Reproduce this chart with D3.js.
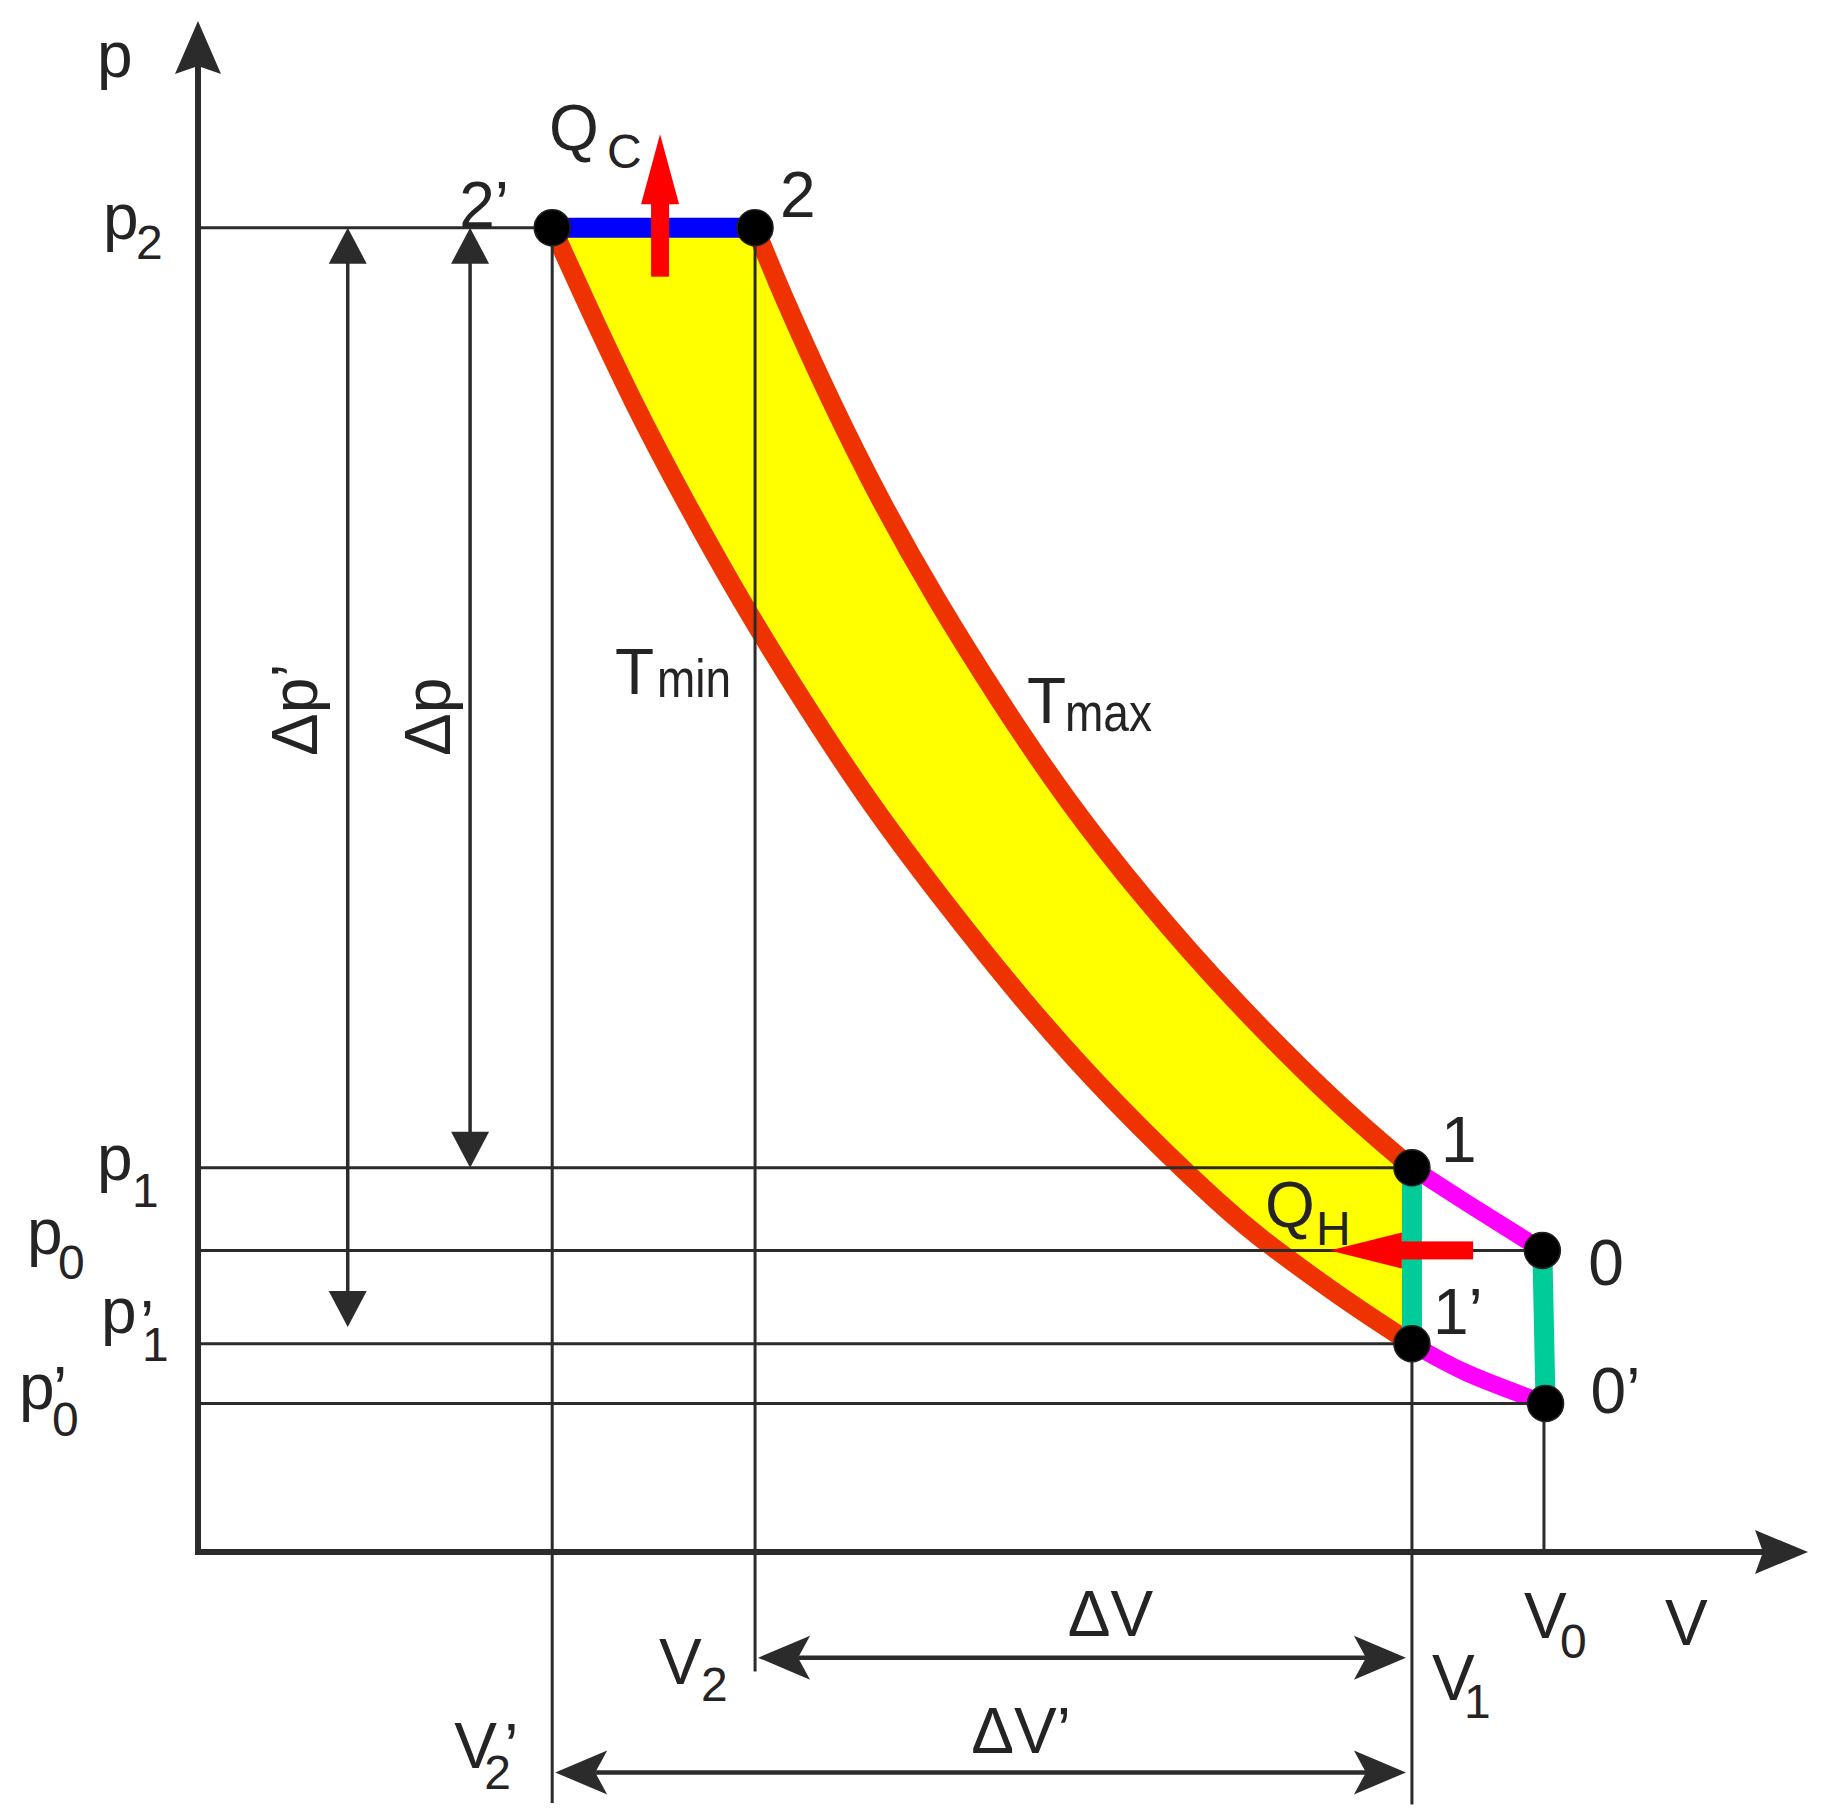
<!DOCTYPE html>
<html>
<head>
<meta charset="utf-8">
<script src="https://cdn.jsdelivr.net/npm/d3@7"></script>
<style>
  body { margin: 0; background: #fff; }
  svg text { font-family: "Liberation Sans", Arial, sans-serif; fill: #262324; }
</style>
</head>
<body>
<svg width="1827" height="1820"></svg>
<script>
// pressure levels: p2, p1, p0, p'1, p'0
const pLevels = [8.65, 2.51, 1.97, 1.36, 0.97]
// volume levels: V'2, V2, V1, V0
const vLevels = [2.20, 3.46, 7.54, 8.36]
// where the volume guide lines stop below the axis
const vLineEnds = [-1.64, -0.78, -1.65, 0]

// state points 2', 2, 1, 0, 1', 0'
const stateNames = ['2’', '2', '1', '0', '1’', '0’']
const stateV = [2.20, 3.46, 7.54, 8.35, 7.54, 8.37]
const stateP = [8.65, 8.65, 2.51, 1.97, 1.36, 0.97]

// T max isotherm, 2 -> 1
const tmaxV = [3.46, 3.646, 3.932, 4.242, 4.590, 4.975, 5.404, 5.888, 6.435, 7.062, 7.54]
const tmaxP = [8.65, 8.18, 7.52, 6.87, 6.22, 5.57, 4.91, 4.26, 3.61, 2.95, 2.51]
// T min isotherm, 2' -> 1'
const tminV = [2.20, 2.404, 2.702, 3.025, 3.373, 3.752, 4.168, 4.627, 5.124, 5.689, 6.323, 6.702, 7.124, 7.54]
const tminP = [8.65, 8.18, 7.52, 6.87, 6.22, 5.57, 4.91, 4.26, 3.61, 2.95, 2.30, 1.97, 1.65, 1.36]
// 1 -> 0 and 1' -> 0'
const upperV = [7.54, 7.88, 8.35]
const upperP = [2.51, 2.28, 1.97]
const lowerV = [7.54, 7.88, 8.37]
const lowerP = [1.36, 1.17, 0.97]

// dimension arrows
const dpArrowV = [0.93, 1.69]
const dpArrowTop = [8.65, 8.65]
const dpArrowBottom = [1.47, 2.51]
const dvArrowP = [-0.69, -1.44]
const dvArrowLeft = [3.46, 2.20]
const dvArrowRight = [7.54, 7.54]

// heat arrows
const qcV = 2.87
const qcP = [8.33, 9.26]
const qhP = 1.97
const qhV = [7.92, 7.03]

const svg = d3.select('svg')
const x = d3.scaleLinear().domain([0, 10]).range([198, 1808])
const y = d3.scaleLinear().domain([0, 10]).range([1552, 21])

const zip = (vs, ps) => vs.map((v, i) => [v, ps[i]])
const line = d3.line()
  .x(d => x(d[0]))
  .y(d => y(d[1]))
  .curve(d3.curveNatural)

const ink = '#2b2b2b'

// arrow head: tip (tx,ty), direction (ux,uy)
function head (tx, ty, ux, uy, len, half, notch) {
  const bx = tx - ux * len
  const by = ty - uy * len
  const nx = -uy
  const ny = ux
  const mx = tx - ux * (len - notch)
  const my = ty - uy * (len - notch)
  return `M${tx},${ty}L${bx + nx * half},${by + ny * half}L${mx},${my}L${bx - nx * half},${by - ny * half}Z`
}

// yellow cycle area
const tmin = zip(tminV, tminP)
const tmax = zip(tmaxV, tmaxP)
svg.append('path')
  .attr('d', line(tmin) + line(tmax.slice().reverse()).replace(/^M/, 'L') + 'Z')
  .style('fill', '#ffff00')

// isotherms
svg.append('g').selectAll('path')
  .data([tmin, tmax])
  .join('path')
  .attr('d', line)
  .style('fill', 'none')
  .style('stroke', '#ee3300')
  .style('stroke-width', 19)

// blue line 2'-2
svg.append('line')
  .attr('x1', x(stateV[0])).attr('x2', x(stateV[1]))
  .attr('y1', y(stateP[0])).attr('y2', y(stateP[1]))
  .style('stroke', '#0000ff')
  .style('stroke-width', 20)

// magenta 1-0, 1'-0'
svg.append('g').selectAll('path')
  .data([zip(upperV, upperP), zip(lowerV, lowerP)])
  .join('path')
  .attr('d', line)
  .style('fill', 'none')
  .style('stroke', '#ff00ff')
  .style('stroke-width', 17)

// green 1-1', 0-0'
svg.append('g').selectAll('line')
  .data([[2, 4], [3, 5]])
  .join('line')
  .attr('x1', d => x(stateV[d[0]])).attr('y1', d => y(stateP[d[0]]))
  .attr('x2', d => x(stateV[d[1]])).attr('y2', d => y(stateP[d[1]]))
  .style('stroke', '#00cc99')
  .style('stroke-width', 20)

// horizontal guide lines: axis -> state point
const pEnds = [0, 2, 3, 4, 5]
const guides = svg.append('g').style('stroke', ink).style('stroke-width', 3)
guides.selectAll('.ph')
  .data(pLevels)
  .join('line')
  .attr('class', 'ph')
  .attr('x1', x(0)).attr('x2', (d, i) => x(stateV[pEnds[i]]))
  .attr('y1', d => y(d)).attr('y2', d => y(d))

// vertical guide lines
const vStarts = [pLevels[0], pLevels[0], pLevels[3], pLevels[4]]
guides.selectAll('.vv')
  .data(vLevels)
  .join('line')
  .attr('class', 'vv')
  .attr('x1', d => x(d)).attr('x2', d => x(d))
  .attr('y1', (d, i) => y(vStarts[i])).attr('y2', (d, i) => y(vLineEnds[i]))

// axes
const axes = svg.append('g')
axes.append('line')
  .attr('x1', x(0)).attr('x2', x(0))
  .attr('y1', y(0) + 3).attr('y2', y(10) + 45)
  .style('stroke', ink).style('stroke-width', 6)
axes.append('line')
  .attr('x1', x(0) - 3).attr('x2', x(10) - 45)
  .attr('y1', y(0)).attr('y2', y(0))
  .style('stroke', ink).style('stroke-width', 6)
axes.append('path').attr('d', head(x(0), y(10), 0, -1, 53, 23, 8)).style('fill', ink)
axes.append('path').attr('d', head(x(10), y(0), 1, 0, 53, 22, 8)).style('fill', ink)

// dimension arrows
const dims = svg.append('g')
dpArrowV.forEach((v, i) => {
  const x0 = x(v)
  const yt = y(dpArrowTop[i])
  const yb = y(dpArrowBottom[i])
  dims.append('line')
    .attr('x1', x0).attr('x2', x0).attr('y1', yt + 30).attr('y2', yb - 30)
    .style('stroke', ink).style('stroke-width', 3.5)
  dims.append('path').attr('d', head(x0, yt, 0, -1, 36, 19, 0)).style('fill', ink)
  dims.append('path').attr('d', head(x0, yb, 0, 1, 36, 19, 0)).style('fill', ink)
})
dvArrowP.forEach((p, i) => {
  const y0 = y(p)
  const xl = x(dvArrowLeft[i]) + 3
  const xr = x(dvArrowRight[i]) - 6
  dims.append('line')
    .attr('x1', xl + 40).attr('x2', xr - 40).attr('y1', y0).attr('y2', y0)
    .style('stroke', ink).style('stroke-width', 4.5)
  dims.append('path').attr('d', head(xl, y0, -1, 0, 52, 22, 12)).style('fill', ink)
  dims.append('path').attr('d', head(xr, y0, 1, 0, 52, 22, 12)).style('fill', ink)
})

// heat arrows
const heat = svg.append('g').style('fill', '#ff0000')
heat.append('rect')
  .attr('x', x(qcV) - 9).attr('width', 18)
  .attr('y', y(qcP[1]) + 68).attr('height', y(qcP[0]) - y(qcP[1]) - 68)
heat.append('path').attr('d', head(x(qcV), y(qcP[1]), 0, -1, 70, 19, 0))
heat.append('rect')
  .attr('x', x(qhV[1]) + 70).attr('width', x(qhV[0]) - x(qhV[1]) - 70)
  .attr('y', y(qhP) - 9).attr('height', 18)
heat.append('path').attr('d', head(x(qhV[1]), y(qhP), -1, 0, 72, 18, 0))

// state dots
svg.append('g').selectAll('circle')
  .data(stateV)
  .join('circle')
  .attr('cx', d => x(d))
  .attr('cy', (d, i) => y(stateP[i]))
  .attr('r', 18)
  .style('fill', '#000')
  .style('stroke', '#222')
  .style('stroke-width', 1.5)

// text helper
const labels = svg.append('g')
function txt (px, py, s, size, extra) {
  const t = labels.append('text')
    .attr('x', px).attr('y', py)
    .style('font-size', (size || 64) + 'px')
    .text(s)
  if (extra) extra(t)
  return t
}

// axis names
txt(97, 77, 'p')
txt(1665, 1645, 'V')

// pressure labels
txt(103, y(pLevels[0]) + 11, 'p'); txt(136, y(pLevels[0]) + 31, '2', 48)
txt(97, y(pLevels[1]) + 12, 'p'); txt(132, y(pLevels[1]) + 39, '1', 48)
txt(27, y(pLevels[2]) + 4, 'p'); txt(58, y(pLevels[2]) + 29, '0', 48)
txt(101, y(pLevels[3]) - 11, 'p'); txt(140, y(pLevels[3]) + 2, '’'); txt(142, y(pLevels[3]) + 17, '1', 48)
txt(19, y(pLevels[4]) + 6, 'p'); txt(53, y(pLevels[4]) + 9, '’'); txt(52, y(pLevels[4]) + 33, '0', 48)

// volume labels
txt(x(vLevels[0]) - 98, 1768, 'V'); txt(x(vLevels[0]) - 48, 1769, '’'); txt(x(vLevels[0]) - 68, 1789, '2', 48)
txt(x(vLevels[1]) - 96, 1684, 'V'); txt(x(vLevels[1]) - 54, 1701, '2', 48)
txt(x(vLevels[2]) + 20, 1700, 'V'); txt(x(vLevels[2]) + 52, 1718, '1', 48)
txt(x(vLevels[3]) - 20, 1638, 'V'); txt(x(vLevels[3]) + 16, 1658, '0', 48)

// state labels
const stateDx = [-93, 25, 29, 46, 21, 45]
const stateDy = [-1, -11, -6, 35, -10, 10]
stateNames.forEach((s, i) => {
  txt(x(stateV[i]) + stateDx[i], y(stateP[i]) + stateDy[i], s)
})

// heat labels
txt(549, 150, 'Q'); txt(607, 168, 'C', 48)
txt(1265, 1227, 'Q'); txt(1316, 1245, 'H', 48)

// isotherm labels
txt(615, 694, 'T'); txt(657, 697, 'min', 54, t => t.attr('textLength', 74).attr('lengthAdjust', 'spacingAndGlyphs'))
txt(1027, 723, 'T'); txt(1065, 731, 'max', 54, t => t.attr('textLength', 87).attr('lengthAdjust', 'spacingAndGlyphs'))

// dimension labels
const dpNames = ['Δp’', 'Δp']
const dpLabelX = [317, 450]
dpNames.forEach((s, i) => {
  txt(0, 0, s).attr('transform', `translate(${dpLabelX[i]},756) rotate(-90)`)
})
const dvNames = ['ΔV', 'ΔV’']
dvNames.forEach((s, i) => {
  const mid = (x(dvArrowLeft[i]) + x(dvArrowRight[i])) / 2
  txt(mid + [27, 39][i], y(dvArrowP[i]) - [22, 19][i], s).style('text-anchor', 'middle')
})
</script>
</body>
</html>
